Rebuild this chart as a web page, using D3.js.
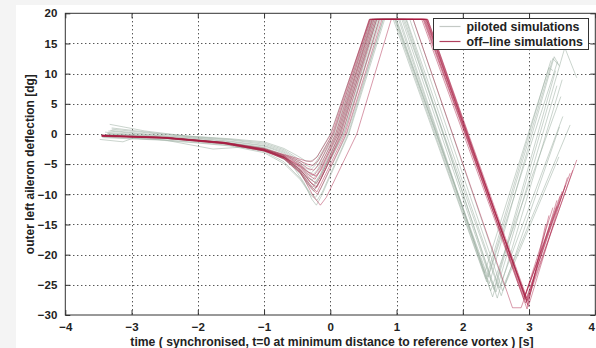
<!DOCTYPE html>
<html>
<head>
<meta charset="utf-8">
<script src="https://cdn.jsdelivr.net/npm/d3@7"></script>
<style>
  body { margin: 0; background: #f4f4f4; }
  svg { display: block; }
  text { font-family: "Liberation Sans", Arial, sans-serif; font-weight: bold; fill: #222; }
</style>
</head>
<body>
<svg id="chart" width="596" height="348"></svg>
<script>
// --- data ---
const xTicks = [-4, -3, -2, -1, 0, 1, 2, 3, 4];
const yTicks = [20, 15, 10, 5, 0, -5, -10, -15, -20, -25, -30];
const xTitle = "time ( synchronised, t=0 at minimum distance to reference vortex ) [s]";
const yTitle = "outer left aileron deflection [dg]";
const legendLabels = ["piloted simulations", "off\u2013line simulations"];

// piloted simulations, [t, deflection]
const piloted = [
  [[-3.33,1.6],[-2.8,0.5],[-2.2,-0.3],[-1.5,-0.8],[-1.0,-1.3],[-0.7,-2.4],[-0.5,-3.6],[-0.38,-4.4],[-0.3,-4.6],[-0.2,-3.8],[0.0,0],[0.6,19],[0.98,19],[2.38,-23.7],[3.36,12.5],[3.44,11.5]],
  [[-3.48,-0.9],[-3.13,-1.3],[-2.98,-0.7],[-2.5,-1.0],[-1.77,-2.5],[-1.22,-2.1],[-0.9,-2.9],[-0.6,-4.8],[-0.4,-8.0],[-0.28,-10.8],[-0.21,-11.8],[-0.13,-10.2],[0.28,0],[0.82,19],[1.05,19],[2.45,-27.0],[3.54,14.3],[3.72,9.3]],
  [[-3.4,0.3],[-2.6,-0.4],[-2.0,-1.0],[-1.5,-1.5],[-1.0,-2.3],[-0.7,-3.8],[-0.48,-6.0],[-0.33,-8.6],[-0.25,-9.5],[-0.17,-8.0],[0.2,0],[0.74,19],[0.95,19],[2.36,-24.5],[3.43,12.0]],
  [[-3.38,-0.2],[-2.6,-0.6],[-2.0,-1.1],[-1.5,-1.7],[-1.0,-2.6],[-0.7,-3.9],[-0.48,-5.6],[-0.32,-7.4],[-0.23,-8.0],[-0.15,-6.7],[0.15,0],[0.7,19],[1.1,19],[2.58,-26.8],[3.46,1.2]],
  [[-3.35,0.5],[-2.6,-0.3],[-2.0,-0.8],[-1.5,-1.3],[-1.0,-2.0],[-0.7,-3.2],[-0.5,-4.9],[-0.36,-6.5],[-0.28,-7.0],[-0.2,-6.0],[0.1,0],[0.66,19],[1.15,19],[2.55,-25.5],[3.51,2.9]],
  [[-3.3,0.8],[-2.6,0.0],[-2.0,-0.6],[-1.5,-1.0],[-1.0,-1.7],[-0.7,-2.8],[-0.5,-4.3],[-0.38,-5.6],[-0.3,-6.0],[-0.22,-5.1],[0.06,0],[0.63,19],[1.0,19],[2.4,-24.8],[3.38,12.8],[3.46,11.2]],
  [[-3.42,-0.5],[-2.6,-0.9],[-2.0,-1.4],[-1.5,-1.9],[-1.0,-2.9],[-0.7,-4.6],[-0.45,-7.4],[-0.3,-9.8],[-0.22,-10.5],[-0.14,-9.0],[0.25,0],[0.8,19],[1.2,19],[2.6,-26.0],[3.45,-3.8]],
  [[-3.36,0.1],[-2.6,-0.5],[-2.0,-1.0],[-1.5,-1.6],[-1.0,-2.4],[-0.7,-3.6],[-0.48,-5.8],[-0.34,-8.0],[-0.26,-8.8],[-0.18,-7.6],[0.18,0],[0.72,19],[1.08,19],[2.47,-25.8],[3.40,10.5]],
  [[-3.4,-0.3],[-2.6,-0.7],[-2.0,-1.2],[-1.5,-1.8],[-1.0,-2.7],[-0.7,-4.2],[-0.47,-6.4],[-0.32,-8.5],[-0.24,-9.2],[-0.16,-7.8],[0.2,0],[0.76,19],[1.12,19],[2.5,-26.2],[3.42,8.0]],
  [[-3.3,1.0],[-2.6,0.1],[-2.0,-0.5],[-1.5,-0.9],[-1.0,-1.5],[-0.7,-2.6],[-0.5,-4.0],[-0.38,-5.1],[-0.3,-5.5],[-0.22,-4.7],[0.04,0],[0.62,19],[0.99,19],[2.33,-23.0],[3.3,11.0],[3.36,10.5]],
  [[-3.37,0.0],[-2.6,-0.5],[-2.0,-1.0],[-1.5,-1.5],[-1.0,-2.2],[-0.7,-3.5],[-0.5,-5.5],[-0.35,-7.2],[-0.27,-7.6],[-0.19,-6.5],[0.12,0],[0.68,19],[1.25,19],[2.62,-25.0],[3.62,1.5]],
  [[-3.44,-0.6],[-2.6,-1.0],[-2.0,-1.5],[-1.5,-2.0],[-1.0,-3.1],[-0.7,-4.9],[-0.45,-7.6],[-0.29,-10.2],[-0.2,-11.0],[-0.12,-9.6],[0.27,0],[0.8,19],[1.03,19],[2.42,-26.0],[3.48,6.2]],
  [[-3.32,0.6],[-2.6,-0.2],[-2.0,-0.7],[-1.5,-1.2],[-1.0,-1.9],[-0.7,-3.0],[-0.5,-4.6],[-0.37,-6.1],[-0.29,-6.5],[-0.21,-5.6],[0.08,0],[0.65,19],[0.97,19],[2.35,-24.0],[3.33,12.2]],
  [[-3.39,-0.1],[-2.6,-0.6],[-2.0,-1.1],[-1.5,-1.7],[-1.0,-2.5],[-0.7,-3.8],[-0.48,-6.0],[-0.33,-7.8],[-0.25,-8.4],[-0.17,-7.2],[0.14,0],[0.7,19],[1.14,19],[2.52,-27.2],[3.50,9.0]]
];

// off-line simulations, [t, deflection]
const offline = [
  [[-3.45,-0.3],[-2.5,-0.6],[-1.6,-1.5],[-1.0,-2.7],[-0.7,-4.0],[-0.45,-6.2],[-0.28,-8.8],[-0.2,-9.6],[-0.12,-7.8],[0.22,0],[0.74,19],[1.42,19],[2.95,-28.0],[3.72,-4.3]],
  [[-3.45,-0.2],[-2.5,-0.6],[-1.6,-1.4],[-1.0,-2.6],[-0.7,-3.9],[-0.45,-5.9],[-0.3,-8.0],[-0.22,-9.0],[-0.14,-7.4],[0.18,0],[0.70,19],[1.44,19],[2.96,-27.5],[3.50,-9.5]],
  [[-3.45,-0.3],[-2.5,-0.7],[-1.6,-1.5],[-1.0,-2.7],[-0.7,-3.8],[-0.45,-5.6],[-0.3,-7.5],[-0.21,-8.2],[-0.13,-6.8],[0.14,0],[0.66,19],[1.45,19],[2.97,-27.8],[3.42,-11.0]],
  [[-3.45,-0.4],[-2.5,-0.7],[-1.6,-1.6],[-1.0,-2.8],[-0.7,-3.9],[-0.45,-5.4],[-0.32,-6.9],[-0.23,-7.5],[-0.15,-6.0],[0.10,0],[0.63,19],[1.46,19],[2.98,-28.3],[3.30,-13.5]],
  [[-3.45,-0.3],[-2.5,-0.6],[-1.6,-1.5],[-1.0,-2.6],[-0.7,-3.7],[-0.45,-5.1],[-0.33,-6.3],[-0.24,-6.8],[-0.16,-5.6],[0.08,0],[0.61,19],[1.43,19],[2.96,-27.2],[3.55,-8.5]],
  [[-3.45,-0.2],[-2.5,-0.5],[-1.6,-1.4],[-1.0,-2.5],[-0.7,-3.6],[-0.45,-4.8],[-0.34,-5.7],[-0.25,-6.0],[-0.17,-5.0],[0.05,0],[0.60,19],[1.40,19],[2.93,-27.0],[3.62,-6.5]],
  [[-3.45,-0.3],[-2.5,-0.6],[-1.6,-1.4],[-1.0,-2.5],[-0.7,-3.5],[-0.45,-4.5],[-0.35,-5.0],[-0.26,-5.2],[-0.18,-4.4],[0.03,0],[0.59,19],[1.41,19],[2.94,-26.8],[3.36,-12.2]],
  [[-3.45,-0.3],[-2.5,-0.6],[-1.6,-1.4],[-1.0,-2.4],[-0.7,-3.4],[-0.45,-4.2],[-0.36,-4.5],[-0.27,-4.5],[-0.2,-3.8],[0.01,0],[0.59,19],[1.38,19],[2.92,-27.4],[3.47,-10.2]],
  [[-3.45,-0.3],[-2.5,-0.7],[-1.6,-1.6],[-1.0,-2.8],[-0.7,-4.1],[-0.45,-6.4],[-0.25,-10.4],[-0.15,-11.8],[-0.06,-10.5],[0.40,0],[0.92,19],[1.47,19],[2.99,-28.6],[3.58,-7.2]],
  [[-3.45,-0.4],[-2.5,-0.7],[-1.6,-1.6],[-1.0,-2.8],[-0.7,-4.1],[-0.45,-6.5],[-0.27,-9.2],[-0.19,-10.0],[-0.11,-8.2],[0.24,0],[0.78,19],[1.45,19],[2.97,-29.0],[3.25,-15.0]],
  [[-3.45,-0.3],[-2.5,-0.6],[-1.6,-1.5],[-1.0,-2.7],[-0.7,-3.9],[-0.45,-6.0],[-0.28,-8.2],[-0.2,-8.8],[-0.12,-7.0],[0.16,0],[0.68,19],[1.25,19],[2.75,-28.8],[2.88,-28.8],[3.42,-12.0]],
  [[-3.45,-0.2],[-2.5,-0.6],[-1.6,-1.5],[-1.0,-2.6],[-0.7,-3.8],[-0.45,-5.3],[-0.31,-6.6],[-0.21,-7.0],[-0.13,-5.8],[0.12,0],[0.64,19],[1.47,19],[2.98,-27.6],[3.66,-6.0]]
];

// --- layout ---
const svg = d3.select("#chart");
const plot = { left: 65.3, right: 595.3, top: 13.3, bottom: 315 };

// white page area (the reference has a thin grey margin top/left)
svg.append("rect")
  .attr("x", 16).attr("y", 5)
  .attr("width", 596 - 16).attr("height", 348 - 5)
  .attr("fill", "#fff");

const x = d3.scaleLinear().domain([-4, 4]).range([plot.left, plot.right]);
const y = d3.scaleLinear().domain([-30, 20]).range([plot.bottom, plot.top]);

svg.append("clipPath").attr("id", "clip")
  .append("rect")
  .attr("x", plot.left).attr("y", plot.top)
  .attr("width", plot.right - plot.left).attr("height", plot.bottom - plot.top);

// grid (dotted, inner ticks only)
const grid = svg.append("g").attr("stroke", "#111").attr("stroke-width", 1)
  .attr("stroke-dasharray", "1,3");
grid.selectAll("line.gx")
  .data(xTicks.slice(1, -1))
  .join("line")
  .attr("x1", d => Math.round(x(d)) + 0.5).attr("x2", d => Math.round(x(d)) + 0.5)
  .attr("y1", plot.top).attr("y2", plot.bottom);
grid.selectAll("line.gy")
  .data(yTicks.slice(1, -1))
  .join("line")
  .attr("y1", d => Math.round(y(d)) + 0.5).attr("y2", d => Math.round(y(d)) + 0.5)
  .attr("x1", plot.left).attr("x2", plot.right);

// curves
const line = d3.line().x(d => x(d[0])).y(d => y(d[1]));
const curves = svg.append("g").attr("clip-path", "url(#clip)").attr("fill", "none");

curves.append("g")
  .attr("stroke", "#9fb0a4").attr("stroke-opacity", 0.55).attr("stroke-width", 1)
  .selectAll("path")
  .data(piloted)
  .join("path")
  .attr("d", line);

curves.append("g")
  .attr("stroke", "#a81c42").attr("stroke-opacity", 0.45).attr("stroke-width", 1)
  .selectAll("path")
  .data(offline)
  .join("path")
  .attr("d", line);

// axes: ticks inward on all four sides
const tickLen = 5;
const xAxisB = d3.axisBottom(x).tickValues(xTicks).tickSizeInner(-tickLen).tickSizeOuter(0).tickPadding(8);
const xAxisT = d3.axisTop(x).tickValues(xTicks).tickSizeInner(-tickLen).tickSizeOuter(0).tickFormat("");
const yAxisL = d3.axisLeft(y).tickValues(yTicks).tickSizeInner(-tickLen).tickSizeOuter(0).tickPadding(8);
const yAxisR = d3.axisRight(y).tickValues(yTicks).tickSizeInner(-tickLen).tickSizeOuter(0).tickFormat("");

function styleAxis(g) {
  g.select(".domain").remove();
  g.selectAll(".tick line").attr("stroke", "#333");
  g.selectAll(".tick text").attr("font-size", 11.5).attr("fill", "#222")
    .style("font-family", '"Liberation Sans", Arial, sans-serif').style("font-weight", "bold");
}

const gxB = svg.append("g").attr("transform", `translate(0,${plot.bottom})`).call(xAxisB).call(styleAxis);
// the last label sits on the window edge; keep it inside
gxB.selectAll(".tick text").filter(d => d === 4).attr("text-anchor", "end").attr("dx", "-1");
svg.append("g").attr("transform", `translate(0,${plot.top})`).call(xAxisT).call(styleAxis);
svg.append("g").attr("transform", `translate(${plot.left},0)`).call(yAxisL).call(styleAxis);
svg.append("g").attr("transform", `translate(${plot.right},0)`).call(yAxisR).call(styleAxis);

// frame
svg.append("rect")
  .attr("x", plot.left).attr("y", plot.top)
  .attr("width", plot.right - plot.left).attr("height", plot.bottom - plot.top)
  .attr("fill", "none").attr("stroke", "#333").attr("stroke-width", 1);

// axis titles
svg.append("text")
  .attr("x", 332).attr("y", 346)
  .attr("text-anchor", "middle").attr("font-size", 12.2)
  .text(xTitle);

svg.append("text")
  .attr("transform", `translate(34,${(plot.top + plot.bottom) / 2}) rotate(-90)`)
  .attr("text-anchor", "middle").attr("font-size", 12)
  .text(yTitle);

// legend
const legend = svg.append("g").attr("transform", "translate(433.5,18.5)");
legend.append("rect")
  .attr("width", 155).attr("height", 31)
  .attr("fill", "#fff").attr("stroke", "#333").attr("stroke-width", 1);
const legendColors = ["#c4c9c5", "#b0405e"];
legendLabels.forEach((label, i) => {
  const ly = 8 + i * 15;
  legend.append("line")
    .attr("x1", 6).attr("x2", 27).attr("y1", ly).attr("y2", ly)
    .attr("stroke", legendColors[i]).attr("stroke-width", 1.2);
  legend.append("text")
    .attr("x", 33).attr("y", ly + 4.5)
    .attr("font-size", 12.4)
    .text(label);
});
</script>
</body>
</html>
